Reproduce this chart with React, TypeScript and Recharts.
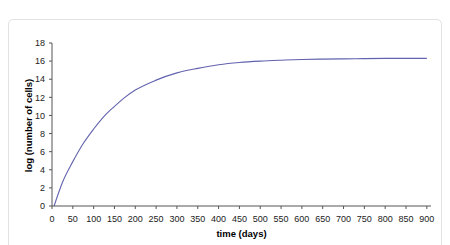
import React from 'react';
import { LineChart, Line, XAxis, YAxis } from 'recharts';

// time in days and log(number of cells)
const days = [5, 25, 50, 75, 100, 125, 150, 175, 200, 250, 300, 350, 400, 450, 500, 550, 600, 650, 700, 750, 800, 850, 900];
const logCells = [0, 2.6, 4.9, 6.9, 8.5, 9.9, 11.0, 12.0, 12.8, 13.9, 14.7, 15.2, 15.6, 15.85, 16.0, 16.1, 16.18, 16.22, 16.25, 16.28, 16.3, 16.3, 16.3];
const xTicks = [0, 50, 100, 150, 200, 250, 300, 350, 400, 450, 500, 550, 600, 650, 700, 750, 800, 850, 900];
const yTicks = [0, 2, 4, 6, 8, 10, 12, 14, 16, 18];

const data = days.map((d, i) => ({ day: d, value: logCells[i] }));

const font = '"Liberation Sans", Arial, sans-serif';
const tickStyle = { fontSize: 9, fill: '#222', fontFamily: font };

const App: React.FC = () => (
    <div style={{ position: 'absolute', left: 0, top: 0, width: 450, height: 245, background: '#fff', overflow: 'hidden' }}>
        <div style={{ position: 'absolute', left: 8, top: 19, width: 432, height: 240, border: '1px solid #e2e2e2', borderRadius: 5 }} />
        <div style={{ position: 'absolute', left: 0, top: 0 }}>
            <LineChart width={450} height={245} data={data} margin={{ top: 43, right: 19, bottom: 9, left: 8 }}>
                <XAxis
                    dataKey="day"
                    type="number"
                    domain={[0, 910]}
                    ticks={xTicks}
                    interval={0}
                    tickSize={3}
                    tickMargin={7}
                    height={30}
                    stroke="#555"
                    tick={tickStyle}
                    label={{ value: 'time (days)', position: 'insideBottom', offset: -1, style: { fontSize: 9.5, fontWeight: 'bold', fill: '#000', fontFamily: font } }}
                />
                <YAxis
                    type="number"
                    domain={[0, 18]}
                    ticks={yTicks}
                    interval={0}
                    width={44}
                    tickSize={3}
                    tickMargin={4}
                    stroke="#555"
                    tick={tickStyle}
                    label={{
                        content: ({ viewBox }: any) => {
                            const cx = viewBox.x + 20;
                            const cy = viewBox.y + viewBox.height / 2 + 1;
                            return (
                                <text x={cx} y={cy} transform={`rotate(-90 ${cx} ${cy})`} textAnchor="middle" dominantBaseline="central"
                                    fontSize={9.5} fontWeight="bold" fill="#000" fontFamily={font}>
                                    log (number of cells)
                                </text>
                            );
                        }
                    }}
                />
                <Line type="monotone" dataKey="value" stroke="#6262ae" strokeWidth={1.1} dot={false} isAnimationActive={false} />
            </LineChart>
        </div>
    </div>
);

export default App;
